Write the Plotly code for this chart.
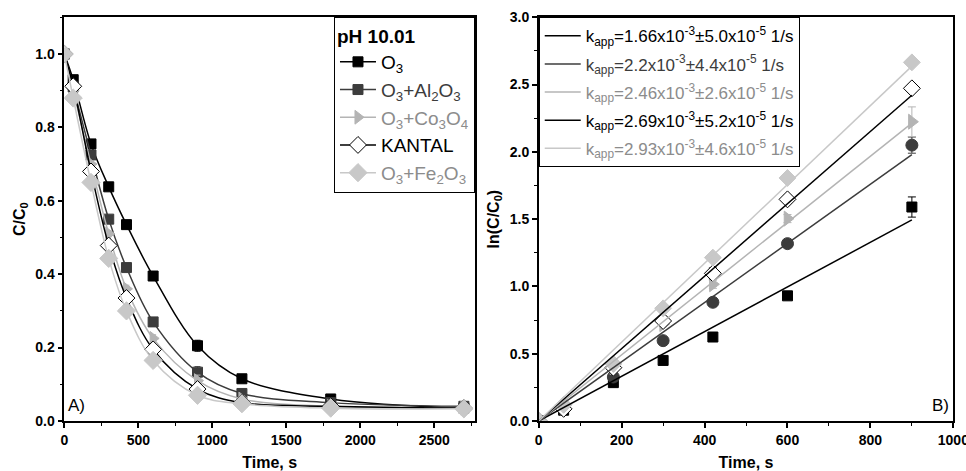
import plotly.graph_objects as go
from plotly.subplots import make_subplots

# ---------------- data ----------------
t_left = [0, 60, 180, 300, 420, 600, 900, 1200, 1800, 2700]
c_o3 = [1.0, 0.93, 0.755, 0.638, 0.535, 0.395, 0.205, 0.115, 0.06, 0.035]
c_al = [1.0, 0.91, 0.725, 0.55, 0.418, 0.27, 0.133, 0.075, 0.05, 0.04]
c_co = [1.0, 0.90, 0.70, 0.51, 0.36, 0.225, 0.11, 0.06, 0.04, 0.035]
c_ka = [1.0, 0.912, 0.68, 0.478, 0.335, 0.195, 0.087, 0.05, 0.04, 0.035]
c_fe = [1.0, 0.88, 0.65, 0.443, 0.30, 0.165, 0.07, 0.047, 0.035, 0.033]
e_left = [0, 0.005, 0.008, 0.008, 0.01, 0.01, 0.015, 0.008, 0.005, 0.005]

t_right = [0, 60, 180, 300, 420, 600, 900]
l_o3 = [0, 0.08, 0.285, 0.45, 0.624, 0.93, 1.59]
l_al = [0, 0.09, 0.327, 0.597, 0.882, 1.318, 2.05]
l_co = [0, 0.10, 0.40, 0.72, 1.016, 1.504, 2.224]
l_ka = [0, 0.09, 0.396, 0.743, 1.097, 1.647, 2.472]
l_fe = [0, 0.12, 0.424, 0.837, 1.214, 1.806, 2.665]
e_o3 = [0, 0.01, 0.02, 0.02, 0.02, 0.02, 0.075]
e_al = [0, 0.01, 0.02, 0.02, 0.03, 0.03, 0.06]
e_co = [0, 0.01, 0.02, 0.02, 0.03, 0.03, 0.11]
e_ka = [0, 0.01, 0.02, 0.03, 0.04, 0.03, 0.03]
e_fe = [0, 0.01, 0.01, 0.01, 0.01, 0.01, 0.01]

k_app = [1.66e-3, 2.2e-3, 2.46e-3, 2.69e-3, 2.93e-3]
fit_t = [0, 900]
fit_labels = [
    "k<sub>app</sub>=1.66x10<sup>-3</sup>±5.0x10<sup>-5</sup> 1/s",
    "k<sub>app</sub>=2.2x10<sup>-3</sup>±4.4x10<sup>-5</sup> 1/s",
    "k<sub>app</sub>=2.46x10<sup>-3</sup>±2.6x10<sup>-5</sup> 1/s",
    "k<sub>app</sub>=2.69x10<sup>-3</sup>±5.2x10<sup>-5</sup> 1/s",
    "k<sub>app</sub>=2.93x10<sup>-3</sup>±4.6x10<sup>-5</sup> 1/s",
]
left_names = ["O<sub>3</sub>", "O<sub>3</sub>+Al<sub>2</sub>O<sub>3</sub>",
              "O<sub>3</sub>+Co<sub>3</sub>O<sub>4</sub>", "KANTAL",
              "O<sub>3</sub>+Fe<sub>2</sub>O<sub>3</sub>"]

# ---------------- styles ----------------
line_cols = ["#000000", "#3c3c3c", "#b4b4b4", "#000000", "#c8c8c8"]
text_cols = ["#000000", "#3c3c3c", "#8c8c8c", "#000000", "#8c8c8c"]
mk_fill = ["#000000", "#3c3c3c", "#b4b4b4", "#ffffff", "#c8c8c8"]
mk_line = ["#000000", "#3c3c3c", "#b4b4b4", "#000000", "#c8c8c8"]
sym_left = ["square", "square", "triangle-right", "diamond", "diamond"]
sym_right = ["square", "circle", "triangle-right", "diamond", "diamond"]
size_left = [10, 10, 12, 13, 14]
size_right = [10, 12, 13, 13, 13]

FONT = "Arial, Liberation Sans, sans-serif"

fig = make_subplots(rows=1, cols=2)

left_series = [c_o3, c_al, c_co, c_ka, c_fe]
for i, ys in enumerate(left_series):
    fig.add_trace(go.Scatter(
        x=t_left, y=ys, mode="lines+markers", line_shape="spline",
        line=dict(color=line_cols[i], width=1.5, smoothing=1.0),
        marker=dict(symbol=sym_left[i], size=size_left[i], color=mk_fill[i],
                    line=dict(color=mk_line[i], width=1)),
        error_y=dict(type="data", array=e_left, color=line_cols[i], thickness=1, width=3),
        name="<span style='color:%s'>%s</span>" % (text_cols[i], left_names[i]),
        legend="legend", legendgroup="L%d" % i, showlegend=True), row=1, col=1)

right_series = [l_o3, l_al, l_co, l_ka, l_fe]
right_err = [e_o3, e_al, e_co, e_ka, e_fe]
for i, ys in enumerate(right_series):
    fig.add_trace(go.Scatter(
        x=t_right, y=ys, mode="markers",
        marker=dict(symbol=sym_right[i], size=size_right[i], color=mk_fill[i],
                    line=dict(color=mk_line[i], width=1)),
        error_y=dict(type="data", array=right_err[i], color=line_cols[i], thickness=1, width=4),
        showlegend=False), row=1, col=2)

for i, k in enumerate(k_app):
    fig.add_trace(go.Scatter(
        x=fit_t, y=[k * t for t in fit_t], mode="lines",
        line=dict(color=line_cols[i], width=1.5),
        name="<span style='color:%s'>%s</span>" % (text_cols[i], fit_labels[i]),
        legend="legend2", legendgroup="R%d" % i, showlegend=True), row=1, col=2)

axis_common = dict(showline=True, linecolor="black", linewidth=1.5, mirror=True,
                   ticks="outside", ticklen=5, tickwidth=1.5, tickcolor="black",
                   showgrid=False, zeroline=False, automargin=False,
                   ticklabeloverflow="allow",
                   tickfont=dict(family=FONT, size=14, color="black", weight="bold"),
                   title_font=dict(family=FONT, size=16, color="black", weight="bold"))

fig.update_xaxes(axis_common)
fig.update_yaxes(axis_common)

fig.update_xaxes(row=1, col=1, range=[0, 2775], dtick=500, domain=[0.0666, 0.4917],
                 minor=dict(dtick=250, ticks="outside", ticklen=3, tickcolor="black", tickwidth=1.2),
                 title=dict(text="<b>Time, s</b>", standoff=14))
fig.update_yaxes(row=1, col=1, range=[0, 1.1], dtick=0.2, tickformat=".1f", domain=[0.1062, 0.9633],
                 minor=dict(dtick=0.1, ticks="outside", ticklen=3, tickcolor="black", tickwidth=1.2),
                 title=dict(text="<b>C/C<sub>0</sub></b>", standoff=6))
fig.update_xaxes(row=1, col=2, range=[0, 1000], dtick=200, domain=[0.5577, 0.9869],
                 minor=dict(dtick=100, ticks="outside", ticklen=3, tickcolor="black", tickwidth=1.2),
                 title=dict(text="<b>Time, s</b>", standoff=14))
fig.update_yaxes(row=1, col=2, range=[0, 3], dtick=0.5, tickformat=".1f", domain=[0.1062, 0.9633],
                 minor=dict(dtick=0.25, ticks="outside", ticklen=3, tickcolor="black", tickwidth=1.2),
                 title=dict(text="<b>ln(C/C<sub>0</sub>)</b>", standoff=6))

fig.update_layout(
    width=966, height=471,
    margin=dict(l=0, r=0, t=0, b=0, autoexpand=False),
    plot_bgcolor="white", paper_bgcolor="white",
    font=dict(family=FONT, color="black"),
    legend=dict(x=0.4917, y=0.9633, xanchor="right", yanchor="top",
                bordercolor="black", borderwidth=1, bgcolor="white",
                font=dict(family=FONT, size=19),
                title=dict(text="<b>pH 10.01</b>", font=dict(family=FONT, size=19)),
                tracegroupgap=0, itemwidth=36),
    legend2=dict(x=0.5577, y=0.9633, xanchor="left", yanchor="top",
                 bordercolor="black", borderwidth=1, bgcolor="white",
                 font=dict(family=FONT, size=17), tracegroupgap=3, itemwidth=36),
    annotations=[
        dict(text="A)", xref="x domain", yref="y domain", x=0.005, y=0.01,
             xanchor="left", yanchor="bottom", showarrow=False,
             font=dict(family=FONT, size=17, color="black")),
        dict(text="B)", xref="x2 domain", yref="y2 domain", x=0.995, y=0.01,
             xanchor="right", yanchor="bottom", showarrow=False,
             font=dict(family=FONT, size=17, color="black")),
    ],
)

fig.write_html("out.html", config={"displayModeBar": False},
               post_script="document.body.style.margin='0px';")
